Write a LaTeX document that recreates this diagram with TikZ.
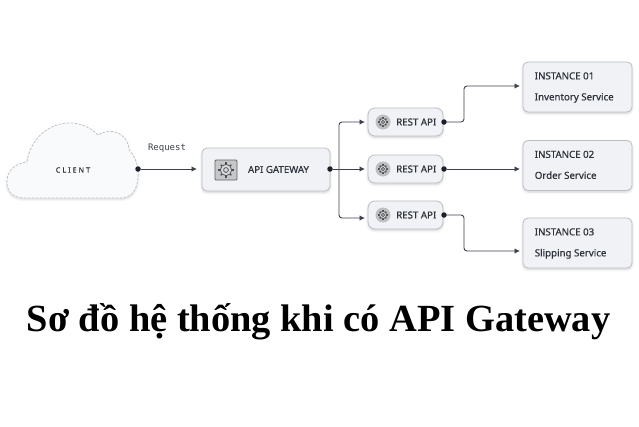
\documentclass[tikz,border=0pt]{standalone}
\usepackage{fontspec}
\setmainfont{Liberation Serif}
\setmonofont{DejaVu Sans Mono}
\newfontfamily\labelfont[FakeBold=0.6]{Noto Sans}
\newfontfamily\trackfont[LetterSpace=28,FakeBold=0.7]{Noto Sans}
\usetikzlibrary{calc,positioning,arrows.meta,shadows.blur}
\definecolor{inkc}{RGB}{28,32,42}
\definecolor{boxc}{RGB}{240,242,245}
\definecolor{edgec}{RGB}{186,191,198}
\definecolor{cloudc}{RGB}{249,250,252}
\tikzset{
  box/.style={rectangle,rounded corners=5pt,draw=edgec,line width=0.8pt,fill=boxc,inner sep=0pt,
    blur shadow={shadow blur steps=6,shadow xshift=0pt,shadow yshift=-1.5pt,shadow opacity=18,shadow blur radius=2.5pt}},
  lbl/.style={font=\labelfont\fontsize{9.7}{11}\selectfont,text=inkc!92,inner sep=0pt},
  inst/.style={box,minimum width=109pt,minimum height=50pt},
  instlbl/.style={lbl,anchor=north west,align=left,font=\labelfont\fontsize{9.7}{21}\selectfont},
  restbox/.style={box,rounded corners=7pt,minimum width=75pt,minimum height=28pt},
  disc/.style={circle,fill=black!25,minimum size=15pt,inner sep=0pt},
  plate/.style={rectangle,rounded corners=1pt,draw=inkc!70,line width=0.8pt,fill=black!22,minimum width=22pt,minimum height=20pt,inner sep=0pt},
  hub/.style={circle,fill=inkc,minimum size=5.5pt,inner sep=0pt},
  conn/.style={line width=0.9pt,inkc!85,rounded corners=3pt,-{Latex[length=5.5pt,width=5.5pt]}},
  gear/.pic={
    \draw[inkc!80,line width=0.7pt,fill=white!85!black] (0,0) circle (4.2pt);
    \draw[inkc!80,line width=0.7pt] (0,0) circle (1.8pt);
    \foreach \a in {0,45,...,315} \draw[inkc!80,line width=1.2pt] (\a:4.2pt) -- (\a:5.6pt);
  },
}
\begin{document}
\begin{tikzpicture}[x=1pt,y=-1pt]
  \useasboundingbox (0,0) rectangle (639,426);
  % client cloud
  \draw[edgec,fill=cloudc,line width=0.7pt,dash pattern=on 2.5pt off 1.5pt,
    blur shadow={shadow blur steps=6,shadow xshift=0pt,shadow yshift=-1.5pt,shadow opacity=15,shadow blur radius=2.5pt}]
    (138,170) .. controls (139,188) and (133,197) .. (122,198)
    -- (24,198) .. controls (12,198) and (6,190) .. (7,180)
    .. controls (8,170) and (16,163) .. (27,162)
    .. controls (30,140) and (48,122) .. (72,123)
    .. controls (84,124) and (92,129) .. (98,135)
    .. controls (104,131) and (112,130) .. (118,133)
    .. controls (126,137) and (129,144) .. (129,150)
    .. controls (134,155) and (137,162) .. (138,170) -- cycle;
  \node[font=\trackfont\fontsize{7.2}{8}\selectfont,text=inkc!90] (client) at (73,170) {CLIENT};
  \node[font=\ttfamily\fontsize{9}{10}\selectfont,text=inkc!85] (req) at (167,148.5) {Request};
  % gateway
  \node[box,minimum width=128pt,minimum height=43pt] (gw) at (266,169.5) {};
  \node[plate] (gwicon) at (226,170) {};
  \pic[scale=1.35] at (gwicon) {gear};
  \node[lbl] (gwlbl) at (278.5,169.5) {API GATEWAY};
  % rest boxes and instances
  \foreach \i/\y/\yi/\name in {1/122/87/Inventory Service,2/169/165.5/Order Service,3/215/243/Slipping Service}{
    \node[restbox] (r\i) at (405.5,\y) {};
    \node[disc] (d\i) at (383,\y) {};
    \pic[scale=0.85] at (d\i) {gear};
    \node[lbl,anchor=west] (t\i) at (396,\y) {REST API};
    \node[hub] (o\i) at (444,\y) {};
    \node[inst] (s\i) at (577.5,\yi) {};
    \node[instlbl] (n\i) at ($(s\i.north west)+(12,10.5)$) {INSTANCE 0\i\\\name};
  }
  \node[hub] (ci) at (138,169) {};
  \node[hub] (go) at (330,169) {};
  % free ends of the arrows
  \coordinate (gwin) at (197,169);
  \coordinate (j) at (339,169);
  \coordinate (a1) at (365,122);
  \coordinate (a2) at (365,169);
  \coordinate (a3) at (365,218);
  \coordinate (b1) at (520,86);
  \coordinate (b2) at (520,169);
  \coordinate (b3) at (520,251);
  \draw[conn] (ci) -- (gwin);
  \draw[conn] (go) -- (a2);
  \draw[conn] (j) |- (a1);
  \draw[conn] (j) |- (a3);
  \draw[conn] (o1) -| (464,104) |- (b1);
  \draw[conn] (o2) -- (b2);
  \draw[conn] (o3) -| (464,233) |- (b3);
  % title
  \node[font=\rmfamily\bfseries\fontsize{38.4}{42}\selectfont,text=black] (title) at (318.5,322) {Sơ đồ hệ thống khi có API Gateway};
\end{tikzpicture}
\end{document}
